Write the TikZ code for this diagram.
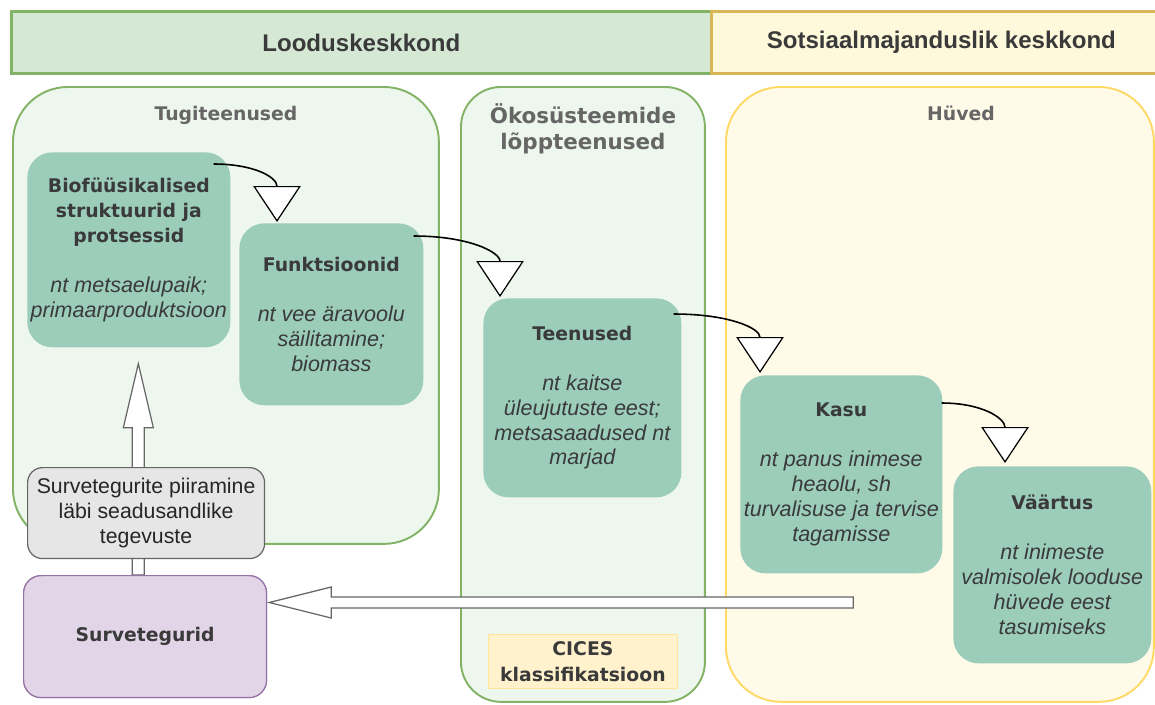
\documentclass[tikz,border=0pt]{standalone}
\usepackage{fontspec}
\setmainfont{Liberation Sans}
\newfontfamily\dvs{DejaVu Sans}
\usetikzlibrary{arrows.meta,calc}
\definecolor{hgF}{HTML}{D5E8D4}
\definecolor{gS}{HTML}{82B366}
\definecolor{hyF}{HTML}{FFF9DB}
\definecolor{hyS}{HTML}{D6B656}
\definecolor{cgF}{HTML}{EEF7ED}
\definecolor{cyF}{HTML}{FFFBE8}
\definecolor{cyS}{HTML}{FFD966}
\definecolor{boxF}{HTML}{9BCDBA}
\definecolor{txtD}{HTML}{3A3A3A}
\definecolor{ttlG}{HTML}{666666}
\definecolor{grF}{HTML}{E6E6E6}
\definecolor{grS}{HTML}{666666}
\definecolor{puF}{HTML}{E1D5E7}
\definecolor{puS}{HTML}{9673A6}
\definecolor{ciF}{HTML}{FFF2CC}
\definecolor{ciS}{HTML}{FFE599}
\newcommand\hfont{\bfseries\fontsize{13.7pt}{16pt}\selectfont}
\newcommand\ctfont{\dvs\bfseries\fontsize{10.7pt}{14.2pt}\selectfont}
\newcommand\ctbigfont{\dvs\bfseries\fontsize{12.2pt}{14.7pt}\selectfont}
\newcommand\exfont{\itshape\fontsize{12.25pt}{14.17pt}\selectfont}
\newcommand\btl[1]{{\dvs\bfseries\upshape\fontsize{10.7pt}{14.17pt}\selectfont #1}}
\begin{document}
\begin{tikzpicture}[x=0.02cm,y=-0.02cm,
  hdr/.style={line width=1.6pt, minimum height=1.24cm, inner sep=0pt, anchor=north west, font=\hfont, text=txtD},
  cont/.style={line width=1.1pt, inner sep=0pt, anchor=north west},
  ctitle/.style={text=ttlG, align=center, inner sep=0pt},
  tbox/.style={fill=boxF, draw=none, rounded corners=0.5cm, inner sep=0pt, anchor=north west, align=center, font=\exfont, text=txtD},
  carrow/.style={line width=0.9pt, draw=black, -{Triangle[width=0.95cm, length=0.72cm, fill=white, line width=0.7pt]}},
  barrow/.style={draw=grS, fill=white, line width=0.7pt, line join=miter}]
\useasboundingbox (0,0) rectangle (1155,704);
% headers
\node[hdr, draw=gS, fill=hgF, minimum width=14cm] (hl) at (10,10) {Looduskeskkond};
\node[hdr, draw=hyS, fill=hyF, minimum width=9.2cm] (hr) at (710,10) {Sotsiaalmajanduslik keskkond};
% containers
\node[cont, draw=gS, fill=cgF, rounded corners=1.1cm, minimum width=8.52cm, minimum height=9.14cm] (tug) at (12,86) {};
\node[cont, draw=gS, fill=cgF, rounded corners=0.8cm, minimum width=4.88cm, minimum height=12.3cm] (oko) at (460,86) {};
\node[cont, draw=cyS, fill=cyF, rounded corners=1.1cm, minimum width=8.56cm, minimum height=12.3cm] (hyv) at (725,86) {};
\node[ctitle, font=\ctfont, anchor=base] (tugt) at ($(tug.north)+(0,34)$) {Tugiteenused};
\node[ctitle, font=\ctbigfont] (okot) at ($(oko.north)+(0,43)$) {Ökosüsteemide\\lõppteenused};
\node[ctitle, font=\ctfont, anchor=base] (hyvt) at ($(hyv.north)+(21,34)$) {Hüved};
% teal boxes
\node[tbox, minimum width=4.06cm, minimum height=3.9cm] (bio) at (27,152)
  {\btl{Biofüüsikalised}\\\btl{struktuurid ja}\\\btl{protsessid}\\[14.17pt]nt metsaelupaik;\\primaarproduktsioon};
\node[tbox, minimum width=3.68cm, minimum height=3.64cm] (fun) at (239,223)
  {\btl{Funktsioonid}\\[14.17pt]nt vee äravoolu\\säilitamine;\\biomass};
\node[tbox, minimum width=3.96cm, minimum height=3.98cm] (ten) at (483,298)
  {\btl{Teenused}\\[14.17pt]nt kaitse\\üleujutuste eest;\\metsasaadused nt\\marjad};
\node[tbox, minimum width=4.04cm, minimum height=3.96cm] (kasu) at (740,375)
  {\btl{Kasu}\\[14.17pt]nt panus inimese\\heaolu, sh\\turvalisuse ja tervise\\tagamisse};
\node[tbox, minimum width=3.96cm, minimum height=3.94cm] (vaa) at (953,466)
  {\btl{Väärtus}\\[14.17pt]nt inimeste\\valmisolek looduse\\hüvede eest\\tasumiseks};
% CICES
\node[draw=ciS, fill=ciF, line width=0.5pt, inner sep=0pt, anchor=north west, minimum width=3.78cm, minimum height=1.08cm, align=center, text=txtD, font=\fontsize{10.4pt}{14.6pt}\selectfont] (cic) at (488,634)
  {\btl{CICES}\\\btl{klassifikatsioon}};
% purple node
\node[draw=puS, fill=puF, line width=0.7pt, rounded corners=0.35cm, inner sep=0pt, anchor=north west, minimum width=4.86cm, minimum height=2.44cm, text=txtD] (sv) at (23,575) {\btl{Survetegurid}};
% vertical block arrow
\coordinate (vaT) at ($(bio.south)+(9.5,16)$);
\coordinate (vaB) at (vaT |- sv.north);
\draw[barrow] ($(vaB)+(-6,0)$) -- ($(vaT)+(-6,64)$) -- ($(vaT)+(-15,64)$) -- (vaT) -- ($(vaT)+(15,64)$) -- ($(vaT)+(6,64)$) -- ($(vaB)+(6,0)$) -- cycle;
% redraw purple over the arrow base
\node[draw=puS, fill=puF, line width=0.7pt, rounded corners=0.35cm, inner sep=0pt, anchor=north west, minimum width=4.86cm, minimum height=2.44cm, text=txtD] (sv2) at (23,575) {\btl{Survetegurid}};
% gray box
\node[draw=grS, fill=grF, line width=0.7pt, rounded corners=0.3cm, inner sep=0pt, anchor=north west, minimum width=4.74cm, minimum height=1.82cm, align=center, text=black!85, font=\fontsize{12.1pt}{14.17pt}\selectfont] (gr) at (27,467)
  {Survetegurite piiramine\\läbi seadusandlike\\tegevuste};
% horizontal block arrow
\coordinate (haT) at ($(sv.north east)+(2,27.5)$);
\coordinate (haE) at ($(haT)+(584,0)$);
\draw[barrow] (haT) -- ($(haT)+(62,-15.5)$) -- ($(haT)+(62,-5.5)$) -- ($(haE)+(0,-5.5)$) -- ($(haE)+(0,5.5)$) -- ($(haT)+(62,5.5)$) -- ($(haT)+(62,15.5)$) -- cycle;
% curved arrows
\draw[carrow] ($(bio.north east)+(-17,12)$) .. controls +(40,0) and +(0,-45) .. ($(fun.north west)+(38,-1)$);
\draw[carrow] ($(fun.north east)+(-10,13)$) .. controls +(55,0) and +(0,-45) .. ($(ten.north west)+(17,-1)$);
\draw[carrow] ($(ten.north east)+(-8,16)$) .. controls +(55,0) and +(0,-45) .. ($(kasu.north west)+(20,-2)$);
\draw[carrow] ($(kasu.north east)+(-1,28)$) .. controls +(40,0) and +(0,-45) .. ($(vaa.north west)+(52,-3)$);
\end{tikzpicture}
\end{document}
